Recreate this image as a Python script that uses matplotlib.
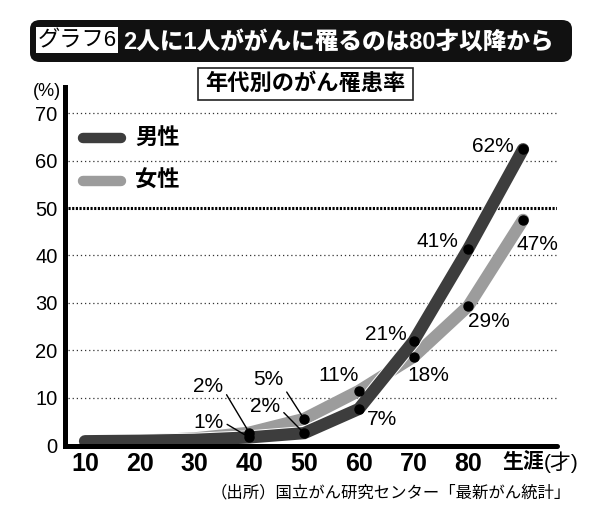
import matplotlib.pyplot as plt
import matplotlib.patheffects as pe
from matplotlib.patches import FancyBboxPatch, Rectangle

plt.rcParams['font.family'] = ['Liberation Sans', 'Noto Sans CJK JP']

# 年代別のがん罹患率 (%)
ages = ['10', '20', '30', '40', '50', '60', '70', '80', '生涯']
men = [0.8, 0.9, 1.1, 1.6, 2.5, 7.6, 21.9, 41.4, 62.4]
women = [0.8, 0.9, 1.4, 2.6, 5.5, 11.4, 18.6, 29.3, 47.5]
men_labels = ['1%', '2%', '7%', '21%', '41%', '62%']
women_labels = ['2%', '5%', '11%', '18%', '29%', '47%']
yticks = [0, 10, 20, 30, 40, 50, 60, 70]

W, H = 600, 529


def px(x, y):
    # pixel position in the picture -> figure fraction
    return x / W, 1 - y / H


fig = plt.figure(figsize=(W / 100, H / 100), dpi=100)
ax = fig.add_axes([64.5 / W, 1 - 445.5 / H, (557 - 64.5) / W, (445.5 - 87) / H])

xs = list(range(len(ages)))
ax.set_xlim(-0.374, 8.62)
ax.set_ylim(-0.105, 75.53)

# grid
for v in yticks[1:]:
    if v == 50:
        ax.axhline(v, xmin=0.007, color='black', lw=2.2, ls=(0, (0.7, 0.5)), zorder=1)
    else:
        ax.axhline(v, xmin=0.007, color='#333333', lw=0.9, ls=(0, (1, 2.3)), zorder=1)

lw = 8.8
ax.plot(xs, women, color='#9c9c9c', lw=lw, solid_capstyle='round', solid_joinstyle='miter', zorder=2)
ax.plot(xs, men, color='#3d3d3d', lw=lw, solid_capstyle='round', solid_joinstyle='miter', zorder=2.2,
        path_effects=[pe.Stroke(linewidth=lw + 1.4, foreground='white'), pe.Normal()])
ax.plot(xs[3:], women[3:], 'o', color='black', ms=6.5, zorder=4)
ax.plot(xs[3:], men[3:], 'o', color='black', ms=6.5, zorder=4)

# value labels: offsets in points from the dot
men_off = [(-29.7, 10.4), (-28.1, 18.9), (16.7, -7.9), (-19.8, 4.5), (-22.3, 5.0), (-21.6, 2.2)]
women_off = [(-29.7, 32.9), (-25.9, 28.1), (-14.2, 10.8), (10.4, -13.7), (15.1, -10.8), (10.0, -18.0)]
men_lead = {0: (1.0, 0.55), 1: (1.0, 0.4)}
women_lead = {0: (1.0, 0.4), 1: (1.0, 0.15)}

for k, (lab, off) in enumerate(zip(men_labels, men_off)):
    props = None
    if k in men_lead:
        props = dict(arrowstyle='-', color='black', lw=1.0, relpos=men_lead[k], shrinkA=1, shrinkB=0)
    ax.annotate(lab, (xs[3 + k], men[3 + k]), xytext=off, textcoords='offset points',
                ha='center', va='center', fontsize=15, arrowprops=props, zorder=6)
for k, (lab, off) in enumerate(zip(women_labels, women_off)):
    props = None
    if k in women_lead:
        props = dict(arrowstyle='-', color='black', lw=1.0, relpos=women_lead[k], shrinkA=1, shrinkB=0)
    ax.annotate(lab, (xs[3 + k], women[3 + k]), xytext=off, textcoords='offset points',
                ha='center', va='center', fontsize=15, arrowprops=props, zorder=6)

# axes
for s in ['top', 'right']:
    ax.spines[s].set_visible(False)
for s in ['left', 'bottom']:
    ax.spines[s].set_linewidth(3.6)
    ax.spines[s].set_zorder(3)
ax.spines['bottom'].set_capstyle('round')
ax.set_yticks(yticks)
ax.set_yticklabels([str(v) for v in yticks], fontsize=14.5)
ax.set_xticks(xs)
ax.set_xticklabels(ages, fontsize=18, fontweight='bold')
ax.xaxis.get_ticklabels()[-1].set_fontsize(15)
ax.tick_params(length=0)
ax.tick_params(axis='y', pad=5)
ax.tick_params(axis='x', pad=4.5)

fig.text(*px(544, 462), '(才)', fontsize=15, ha='left', va='center')
fig.text(*px(47, 91), '(%)', fontsize=13, ha='center', va='center')

# legend
for name, col, yy in [('男性', '#3d3d3d', 138), ('女性', '#9c9c9c', 181)]:
    x0, y0 = px(83, yy)
    x1, _ = px(121, yy)
    fig.add_artist(plt.Line2D([x0, x1], [y0, y0], color=col, lw=7.5, solid_capstyle='round'))
    fig.text(*px(135, yy), name, fontsize=16, fontweight='bold', ha='left', va='center')

# title bar
fig.add_artist(FancyBboxPatch(px(30, 62), 542 / W, 42 / H, boxstyle='round,pad=0,rounding_size=0.017',
                              transform=fig.transFigure, facecolor='#111111', edgecolor='none'))
fig.add_artist(Rectangle(px(36, 53), 82 / W, 26 / H, transform=fig.transFigure,
                         facecolor='white', edgecolor='none'))
fig.text(*px(77, 41), 'グラフ6', fontsize=16, color='black', ha='center', va='center')
fig.text(*px(123, 42), '2人に1人ががんに罹るのは80才以降から', fontsize=17, fontweight='black',
         color='white', ha='left', va='center')

# subtitle
fig.add_artist(Rectangle(px(198, 100), 215 / W, 32 / H, transform=fig.transFigure,
                         facecolor='white', edgecolor='#222222', lw=1.2))
fig.text(*px(305.5, 84.5), '年代別のがん罹患率', fontsize=16, fontweight='bold', ha='center', va='center')

fig.text(*px(571, 493), '（出所）国立がん研究センター「最新がん統計」', fontsize=11.8,
         ha='right', va='center')

fig.savefig('out.png', dpi=100)
